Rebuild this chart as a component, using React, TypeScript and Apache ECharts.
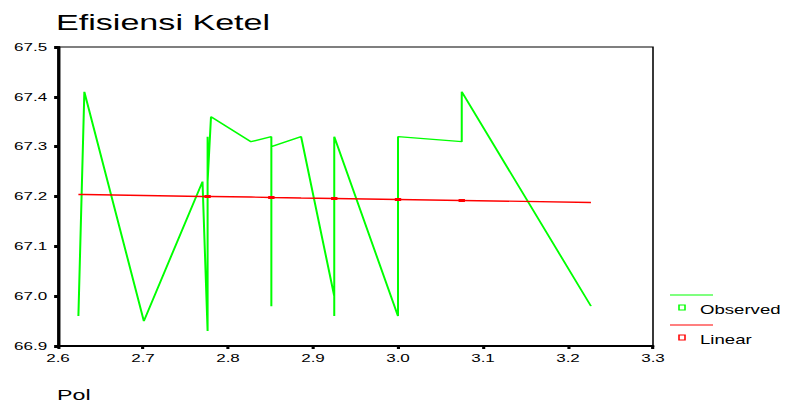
import React, { useEffect, useRef } from "react";
import * as echarts from "echarts";

// Observed cases (in plotting order)
const obsX = [2.624, 2.631, 2.701, 2.770, 2.776, 2.776, 2.776, 2.780, 2.827, 2.851, 2.851, 2.851, 2.886, 2.925, 2.925, 2.925, 3.000, 3.000, 3.075, 3.075, 3.227];
const obsY = [66.96, 67.41, 66.95, 67.23, 66.93, 67.32, 67.23, 67.36, 67.31, 67.32, 66.98, 67.30, 67.32, 67.00, 66.96, 67.32, 66.96, 67.32, 67.31, 67.41, 66.98];

// Linear fit
const linX = [2.624, 2.631, 2.701, 2.770, 2.776, 2.780, 2.827, 2.851, 2.886, 2.925, 3.000, 3.075, 3.227];
const linY = [67.204, 67.204, 67.202, 67.200, 67.200, 67.200, 67.199, 67.198, 67.197, 67.196, 67.194, 67.192, 67.188];

const xTicks = { min: 2.6, max: 3.3, interval: 0.1 };
const yTicks = { min: 66.9, max: 67.5, interval: 0.1 };

const titleText = "Efisiensi Ketel";
const xTitle = "Pol";
const legendNames = ["Observed", "Linear"];

const W = 507;
const H = 403;
const S = 786 / W;
const sx = (v: number) => v / S;
const FONT = "'Liberation Sans', Arial, sans-serif";
const GREEN = "#00ff00";
const RED = "#ff0000";

export default function App() {
  const ref = useRef<HTMLDivElement>(null);
  useEffect(() => {
    if (!ref.current) return;
    const chart = echarts.init(ref.current, null, { renderer: "svg" });
    const counts: Record<string, number> = {};
    obsX.forEach((x) => (counts[x.toFixed(3)] = (counts[x.toFixed(3)] || 0) + 1));
    const dup = linX.map((x) => (counts[x.toFixed(3)] || 0) > 1);

    chart.setOption({
      animation: false,
      backgroundColor: "#fff",
      title: {
        text: titleText,
        left: sx(56),
        top: 11,
        padding: 0,
        textStyle: { fontFamily: FONT, fontSize: 22, fontWeight: "normal", color: "#000" },
      },
      grid: {
        left: sx(58),
        right: W - sx(653),
        top: 47,
        bottom: H - 346,
        containLabel: false,
        outerBoundsMode: "none",
        show: true,
        borderColor: "#000",
        borderWidth: 1,
        backgroundColor: "transparent",
      },
      xAxis: {
        type: "value",
        min: xTicks.min,
        max: xTicks.max,
        interval: xTicks.interval,
        axisLine: { show: true, lineStyle: { color: "#000", width: 2 } },
        axisTick: { show: true, length: 3, lineStyle: { color: "#000", width: 2 } },
        splitLine: { show: false },
        axisLabel: {
          margin: 7,
          fontFamily: FONT,
          fontSize: 11,
          color: "#000",
          formatter: (v: number) => v.toFixed(1),
        },
      },
      yAxis: {
        type: "value",
        min: yTicks.min,
        max: yTicks.max,
        interval: yTicks.interval,
        axisLine: { show: true, lineStyle: { color: "#000", width: 2 } },
        axisTick: { show: true, length: 2.5, lineStyle: { color: "#000", width: 3 } },
        splitLine: { show: false },
        axisLabel: {
          margin: 7,
          fontFamily: FONT,
          fontSize: 11,
          color: "#000",
          formatter: (v: number) => v.toFixed(1),
        },
      },
      series: [
        {
          name: legendNames[0],
          type: "line",
          data: obsX.map((x, i) => [x, obsY[i]]),
          showSymbol: false,
          symbol: "none",
          lineStyle: { color: GREEN, width: 1.3 },
          itemStyle: { color: GREEN },
          z: 2,
        },
        {
          name: legendNames[1],
          type: "line",
          data: linX.map((x, i) => [x, linY[i]]),
          showSymbol: true,
          symbol: "rect",
          symbolSize: (_v: any, p: any) => (dup[p.dataIndex] ? [4 / S * 1.6, 3] : 0),
          lineStyle: { color: RED, width: 1.3 },
          itemStyle: { color: RED, borderWidth: 0 },
          z: 3,
        },
      ],
      graphic: [
        { type: "line", shape: { x1: sx(670), y1: 295, x2: sx(713), y2: 295 }, style: { stroke: GREEN, lineWidth: 1 } },
        { type: "rect", shape: { x: sx(679), y: 305, width: sx(6), height: 5 }, style: { fill: "none", stroke: GREEN, lineWidth: 1 } },
        { type: "text", x: sx(700), y: 310, style: { text: legendNames[0], fontFamily: FONT, fontSize: 12, fill: "#000", verticalAlign: "middle" } },
        { type: "line", shape: { x1: sx(670), y1: 325, x2: sx(713), y2: 325 }, style: { stroke: RED, lineWidth: 1 } },
        { type: "rect", shape: { x: sx(679), y: 335, width: sx(6), height: 5 }, style: { fill: "none", stroke: RED, lineWidth: 1 } },
        { type: "text", x: sx(700), y: 340, style: { text: legendNames[1], fontFamily: FONT, fontSize: 12, fill: "#000", verticalAlign: "middle" } },
        { type: "text", x: sx(57), y: 395, style: { text: xTitle, fontFamily: FONT, fontSize: 15, fill: "#000", verticalAlign: "middle" } },
      ],
    });
    return () => chart.dispose();
  }, []);
  return (
    <div
      ref={ref}
      style={{
        position: "fixed",
        left: 0,
        top: 0,
        width: W,
        height: H,
        transform: `scaleX(${S})`,
        transformOrigin: "0 0",
        background: "#fff",
      }}
    />
  );
}
